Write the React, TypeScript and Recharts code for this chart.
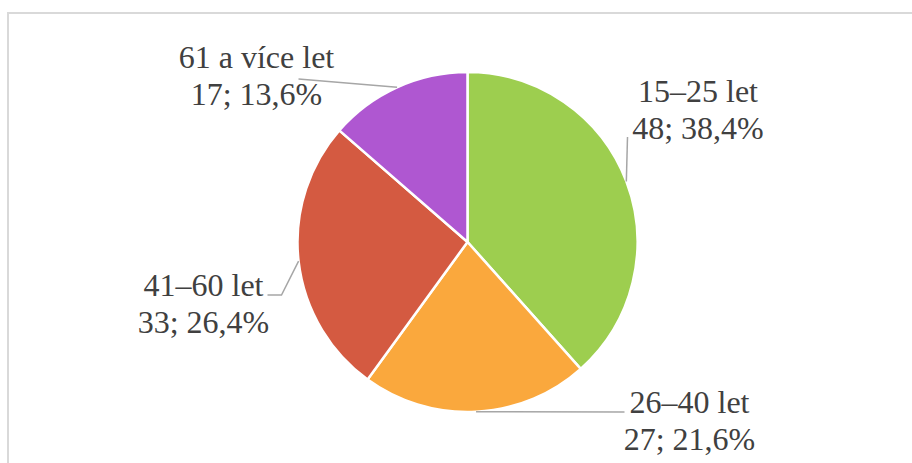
import { PieChart, Pie, Cell } from 'recharts';

const categories = ['15–25 let', '26–40 let', '41–60 let', '61 a více let'];
const counts = [48, 27, 33, 17];
const sliceColors = ['#9DCE4F', '#FAA83D', '#D45A41', '#AF57D1'];

// label text centre (x, first baseline) relative to the pie centre
const labelOffsets: [number, number][] = [
  [230.5, -140],
  [222, 171],
  [-264, 54],
  [-211, -174],
];

// leader line bends/ends relative to the pie centre (start is on the slice edge)
const leaderPoints: [number, number][][] = [
  [[160, -105]],
  [[157, 170]],
  [[-186, 53], [-200, 53]],
  [[-169, -163]],
];

const total = counts.reduce((a, b) => a + b, 0);

const data = categories.map((name, i) => ({ name, value: counts[i] }));

const RADIAN = Math.PI / 180;
const FONT = 'Liberation Serif';

function formatPercent(v: number): string {
  return ((v / total) * 100).toFixed(1).replace('.', ',') + '%';
}

function renderLabel(props: any) {
  const { cx, cy, midAngle, outerRadius, index, value, name } = props;
  const sx = cx + outerRadius * Math.cos(-midAngle * RADIAN);
  const sy = cy + outerRadius * Math.sin(-midAngle * RADIAN);
  const pts = [[sx, sy], ...leaderPoints[index].map(([dx, dy]) => [cx + dx, cy + dy])];
  const [tx, ty] = labelOffsets[index];
  return (
    <g key={`lbl-${index}`}>
      <polyline
        points={pts.map(p => p.join(',')).join(' ')}
        fill="none"
        stroke="#A6A6A6"
        strokeWidth={1.5}
      />
      <text
        x={cx + tx}
        y={cy + ty}
        textAnchor="middle"
        fill="#404040"
        style={{ fontFamily: FONT, fontSize: 32 }}
      >
        <tspan x={cx + tx} y={cy + ty}>{name}</tspan>
        <tspan x={cx + tx} y={cy + ty + 36.5}>{`${value}; ${formatPercent(value)}`}</tspan>
      </text>
    </g>
  );
}

export default function App() {
  return (
    <div
      style={{
        position: 'absolute',
        left: 0,
        top: 0,
        width: 912,
        height: 463,
        overflow: 'hidden',
        background: '#fff',
        fontFamily: FONT,
      }}
    >
      <div
        style={{
          position: 'absolute',
          left: 7,
          top: 12,
          width: 940,
          height: 480,
          border: '2px solid #D9D9D9',
        }}
      />
      <div style={{ position: 'absolute', left: 0, top: 0 }}>
        <PieChart width={912} height={463} margin={{ top: 0, right: 0, bottom: 0, left: 0 }}>
          <Pie
            data={data}
            dataKey="value"
            nameKey="name"
            cx={467.5}
            cy={242}
            outerRadius={170}
            startAngle={90}
            endAngle={-270}
            stroke="#FFFFFF"
            strokeWidth={2.5}
            label={renderLabel}
            labelLine={false}
            isAnimationActive={false}
          >
            {data.map((d, i) => (
              <Cell key={d.name} fill={sliceColors[i]} />
            ))}
          </Pie>
        </PieChart>
      </div>
    </div>
  );
}
